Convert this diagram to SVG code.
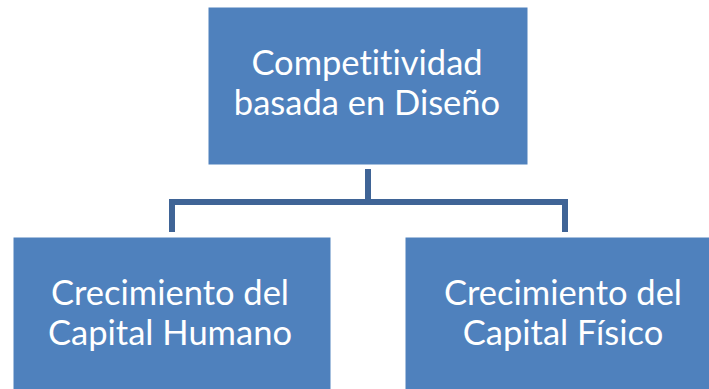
<svg xmlns="http://www.w3.org/2000/svg" width="709" height="389" viewBox="0 0 709 389">
<style>
.box{fill:#4F81BD;stroke:#ffffff;stroke-width:1}
.lbl{fill:#ffffff;font-family:Lato,"Open Sans","DejaVu Sans",sans-serif;font-size:34.5px;text-anchor:middle;font-variant-ligatures:none}
.conn{fill:none;stroke:#3F6496;stroke-width:6;stroke-linejoin:miter}
</style>
<rect width="709" height="389" fill="#ffffff"/>
<g id="connectors">
<path class="conn" d="M368,169 V202 M172,232 V202 H565 V232"/>
</g>
<g id="top">
<rect class="box" x="208" y="7" width="320" height="158"/>
<text class="lbl" x="367" y="75">Competitividad</text>
<text class="lbl" x="367" y="115">basada en Diseño</text>
</g>
<g id="left">
<rect class="box" x="13" y="237" width="318" height="160"/>
<text class="lbl" x="170" y="305">Crecimiento del</text>
<text class="lbl" x="170" y="345">Capital Humano</text>
</g>
<g id="right">
<rect class="box" x="405" y="237" width="320" height="160"/>
<text class="lbl" x="563" y="305">Crecimiento del</text>
<text class="lbl" x="563" y="345">Capital Físico</text>
</g>
</svg>
